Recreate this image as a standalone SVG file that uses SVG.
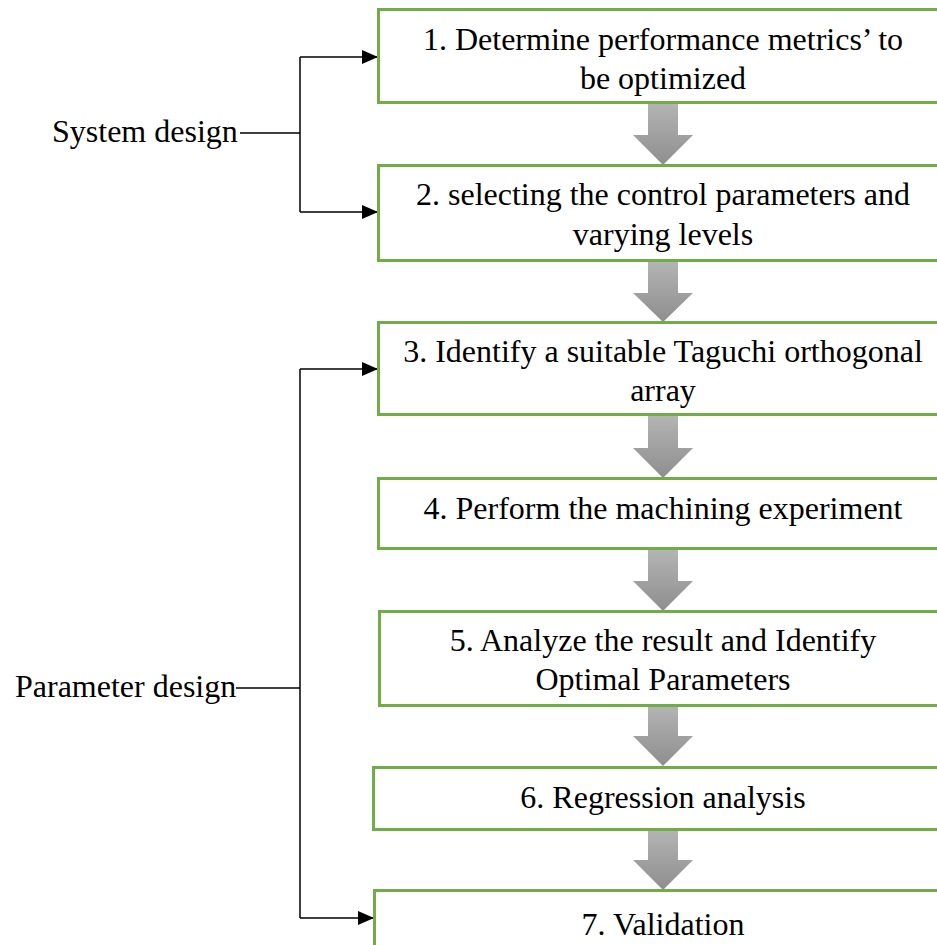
<svg xmlns="http://www.w3.org/2000/svg" width="937" height="945" viewBox="0 0 937 945">
<style>
.box{fill:#fff;stroke:#70ad47;stroke-width:3}
.t{font-family:"Liberation Serif","Times New Roman",serif;font-size:32px;fill:#000}
.c{text-anchor:middle}
.ln{fill:none;stroke:#000;stroke-width:1.5}
.ga{fill:url(#g);stroke:none}
</style>
<defs>
<linearGradient id="g" x1="0" y1="0" x2="0" y2="1">
<stop offset="0" stop-color="#b4b4b4"/>
<stop offset="1" stop-color="#8e8e8e"/>
</linearGradient>
<marker id="ah" markerWidth="16" markerHeight="14" refX="16" refY="7" orient="auto" markerUnits="userSpaceOnUse">
<path d="M0,0 L16,7 L0,14 Z" fill="#000"/>
</marker>
</defs>
<rect width="937" height="945" fill="#fff"/>
<g id="connectors">
<path class="ln" d="M300,57 V212"/>
<path class="ln" d="M300,57 H378" marker-end="url(#ah)"/>
<path class="ln" d="M300,212 H378" marker-end="url(#ah)"/>
<path class="ln" d="M240,133 H300"/>
<path class="ln" d="M300,369 V918"/>
<path class="ln" d="M300,369 H378" marker-end="url(#ah)"/>
<path class="ln" d="M300,918 H374" marker-end="url(#ah)"/>
<path class="ln" d="M236,688 H300"/>
<path class="ga" d="M648,103 H678 V135 H693 L663,165 L633,135 H648 Z"/>
<path class="ga" d="M648,262 H678 V293 H693 L663,322 L633,293 H648 Z"/>
<path class="ga" d="M648,416 H678 V448 H693 L663,478 L633,448 H648 Z"/>
<path class="ga" d="M648,550 H678 V581 H693 L663,611 L633,581 H648 Z"/>
<path class="ga" d="M648,706 H678 V736 H693 L663,766 L633,736 H648 Z"/>
<path class="ga" d="M648,830 H678 V860 H693 L663,890 L633,860 H648 Z"/>
</g>
<g id="label-system"><text class="t" x="52" y="142">System design</text></g>
<g id="label-parameter"><text class="t" x="15" y="697">Parameter design</text></g>
<g id="n1"><rect class="box" x="378.5" y="9.5" width="570" height="93"/>
<text class="t c" x="663" y="50">1. Determine performance metrics’ to</text>
<text class="t c" x="663" y="89">be optimized</text></g>
<g id="n2"><rect class="box" x="378.5" y="165.5" width="570" height="95"/>
<text class="t c" x="663" y="205">2. selecting the control parameters and</text>
<text class="t c" x="663" y="245">varying levels</text></g>
<g id="n3"><rect class="box" x="378.5" y="322.5" width="570" height="92"/>
<text class="t c" x="663" y="362">3. Identify a suitable Taguchi orthogonal</text>
<text class="t c" x="663" y="401">array</text></g>
<g id="n4"><rect class="box" x="378.5" y="478.5" width="570" height="70"/>
<text class="t c" x="663" y="519">4. Perform the machining experiment</text></g>
<g id="n5"><rect class="box" x="379.5" y="611.5" width="570" height="94"/>
<text class="t c" x="663" y="651">5. Analyze the result and Identify</text>
<text class="t c" x="663" y="690">Optimal Parameters</text></g>
<g id="n6"><rect class="box" x="373.5" y="767.5" width="580" height="62"/>
<text class="t c" x="663" y="808">6. Regression analysis</text></g>
<g id="n7"><rect class="box" x="374.5" y="890.5" width="580" height="80"/>
<text class="t c" x="663" y="935">7. Validation</text></g>
</svg>
